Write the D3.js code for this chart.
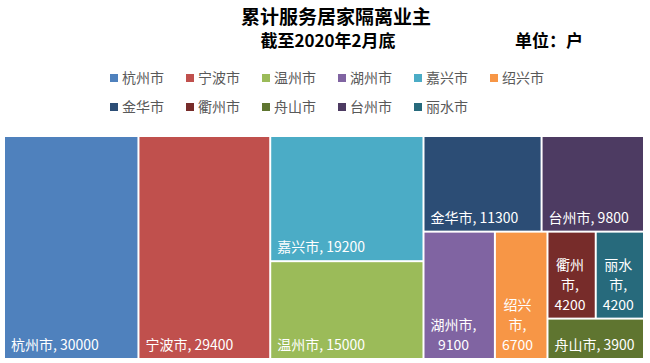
<!DOCTYPE html>
<html>
<head>
<meta charset="utf-8">
<script src="https://cdn.jsdelivr.net/npm/d3@7"></script>
<style>
  body { margin: 0; background: #fff; }
  text { font-family: "Noto Sans CJK SC", "Noto Sans", sans-serif; }
</style>
</head>
<body>
<div id="viz"></div>
<script>
// data, in legend order
const cities = ["杭州市", "宁波市", "温州市", "湖州市", "嘉兴市", "绍兴市",
                "金华市", "衢州市", "舟山市", "台州市", "丽水市"];
const households = [30000, 29400, 15000, 9100, 19200, 6700,
                    11300, 4200, 3900, 9800, 4200];
const colors = ["#4F81BD", "#C0504D", "#9BBB59", "#8064A2", "#4BACC6", "#F79646",
                "#2C4D75", "#772C2A", "#5F7530", "#4D3B62", "#276A7C"];

const W = 650, H = 363;
const area = {left: 5, top: 137, right: 643, bottom: 358};

const svg = d3.select("#viz").append("svg")
    .attr("width", W)
    .attr("height", H);

svg.append("rect").attr("width", W).attr("height", H).attr("fill", "#fff");

// titles
svg.append("text")
    .attr("x", 336).attr("y", 24)
    .attr("text-anchor", "middle")
    .attr("font-size", 19).attr("font-weight", "bold")
    .text("累计服务居家隔离业主");

svg.append("text")
    .attr("x", 328).attr("y", 47)
    .attr("text-anchor", "middle")
    .attr("font-size", 17).attr("font-weight", "bold")
    .text("截至2020年2月底");

svg.append("text")
    .attr("x", 515).attr("y", 47)
    .attr("font-size", 17).attr("font-weight", "bold")
    .text("单位：户");

// legend, 6 per row
const color = d3.scaleOrdinal().domain(cities).range(colors);

const legend = svg.append("g").attr("transform", "translate(110,78)");
const legendItems = legend.selectAll("g")
    .data(cities)
    .enter().append("g")
    .attr("transform", (d, i) => `translate(${(i % 6) * 76},${Math.floor(i / 6) * 29})`);

legendItems.append("rect")
    .attr("x", 0).attr("y", -4)
    .attr("width", 8).attr("height", 8)
    .attr("fill", d => color(d));

legendItems.append("text")
    .attr("x", 12).attr("y", 5)
    .attr("font-size", 14)
    .attr("fill", "#595959")
    .text(d => d);

// tiling: squarified rows, scored against a slightly tall target shape
const K = 0.82;
function worst(row, s, value, dx, dy, dice) {
    let m = 0;
    row.forEach(n => {
        let w, h;
        if (dice) { h = dy * s / value; w = dx * n.value / s; }
        else { w = dx * s / value; h = dy * n.value / s; }
        m = Math.max(m, K * h / w, w / (K * h));
    });
    return m;
}

function tile(parent, x0, y0, x1, y1) {
    const nodes = parent.children;
    let i0 = 0, value = parent.value;
    while (i0 < nodes.length) {
        const dx = x1 - x0, dy = y1 - y0;
        const dice = dx < dy;
        let best = Infinity, i1 = i0, sum = 0;
        while (i1 < nodes.length) {
            const s = sum + nodes[i1].value;
            const score = worst(nodes.slice(i0, i1 + 1), s, value, dx, dy, dice);
            if (score > best) break;
            best = score; sum = s; i1++;
        }
        const row = {value: sum, children: nodes.slice(i0, i1)};
        if (dice) {
            const yy = y0 + dy * sum / value;
            d3.treemapDice(row, x0, y0, x1, yy);
            y0 = yy;
        } else {
            const xx = x0 + dx * sum / value;
            d3.treemapSlice(row, x0, y0, xx, y1);
            x0 = xx;
        }
        value -= sum;
        i0 = i1;
    }
}

const root = d3.hierarchy({children: cities.map((c, i) => ({name: c, value: households[i]}))})
    .sum(d => d.value || 0)
    .sort((a, b) => b.value - a.value);

d3.treemap()
    .size([area.right - area.left, area.bottom - area.top])
    .paddingInner(2)
    .tile(tile)(root);

const chart = svg.append("g").attr("transform", `translate(${area.left},${area.top})`);

const cell = chart.selectAll("g.cell")
    .data(root.leaves())
    .enter().append("g")
    .attr("class", "cell");

cell.append("rect")
    .attr("x", d => d.x0)
    .attr("y", d => d.y0)
    .attr("width", d => d.x1 - d.x0)
    .attr("height", d => d.y1 - d.y0)
    .attr("fill", d => color(d.data.name));

// measure helper for label wrapping
const probe = svg.append("text").attr("font-size", 14).attr("visibility", "hidden");
function textWidth(s) {
    probe.text(s);
    return probe.node().getComputedTextLength();
}

function wrapLabel(name, value, limit) {
    const tokens = [...name, ",", " ", String(value)];
    const lines = [];
    let cur = "";
    tokens.forEach(t => {
        const next = cur + t;
        if (cur.trim() && textWidth(next) > limit) {
            lines.push(cur.trim());
            cur = t.trim();
        } else {
            cur = next;
        }
    });
    if (cur.trim()) lines.push(cur.trim());
    return lines;
}

cell.each(function(d) {
    const w = d.x1 - d.x0;
    const lines = wrapLabel(d.data.name, d.data.value, w - 12);
    const g = d3.select(this);
    const lineH = 20;
    const bottom = d.y1 - 8;
    if (lines.length === 1) {
        g.append("text")
            .attr("x", d.x0 + 6)
            .attr("y", bottom)
            .attr("font-size", 14)
            .attr("fill", "#fff")
            .text(lines[0]);
    } else {
        const blockW = d3.max(lines, l => textWidth(l));
        const cx = d.x0 + 6 + blockW / 2;
        lines.forEach((l, i) => {
            g.append("text")
                .attr("x", cx)
                .attr("y", bottom - (lines.length - 1 - i) * lineH)
                .attr("text-anchor", "middle")
                .attr("font-size", 14)
                .attr("fill", "#fff")
                .text(l);
        });
    }
});

probe.remove();
</script>
</body>
</html>
